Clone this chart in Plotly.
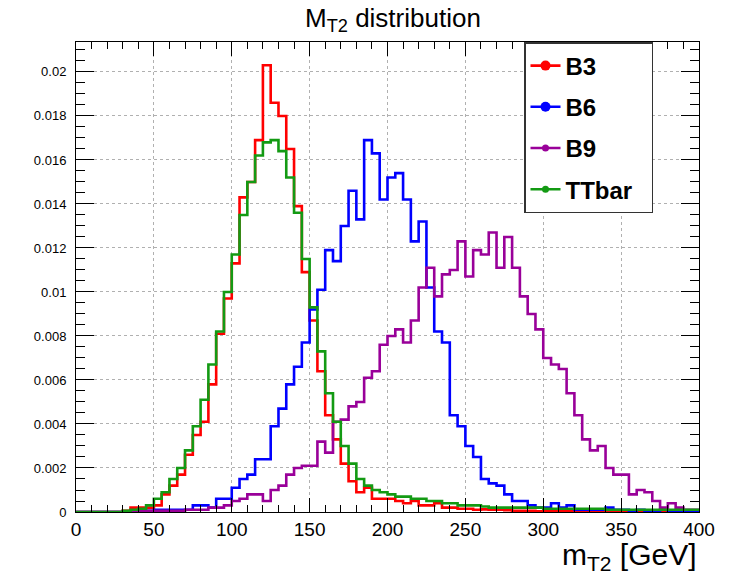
import plotly.graph_objects as go

# ---------------- data ----------------
bin_edges = list(range(0, 405, 5))  # 80 bins of 5 GeV, 0..400

b3 = [0, 0, 0, 0, 0, 0, 0.00005, 0.0002, 0.0002, 0.0002,
      0.0003, 0.0008, 0.0012, 0.0017, 0.0026, 0.0035, 0.0041, 0.0058, 0.0081, 0.0097,
      0.0113, 0.0143, 0.0150, 0.0169, 0.0203, 0.0186, 0.0180, 0.0165, 0.0139, 0.0109,
      0.0087, 0.0064, 0.0044, 0.0033, 0.0022, 0.0014, 0.0009, 0.0011, 0.0006, 0.0006,
      0.0006, 0.0005, 0.0004, 0.0005, 0.0003, 0.0003, 0.0004, 0.0002, 0.0002, 0.00015,
      0.00015, 0.0001, 0.00012, 0.0001, 0.0001, 0.00008, 0.00005, 0.00005, 0.00005, 0.00003,
      0.00005, 0.00005, 0.00003, 0.00005, 0.00002, 0.00005, 0.00003, 0.00002, 0.00005, 0.00002,
      0.00003, 0.00002, 0.00003, 0.00002, 0.00002, 0.00003, 0.00002, 0.00002, 0.00003, 0.00002]

b6 = [0, 0, 0, 0, 0, 0, 0, 0, 0, 0.00005,
      0.0001, 0.0001, 0.0001, 0.0001, 0.0001, 0.0003, 0.0003, 0.0002, 0.0006, 0.0006,
      0.0011, 0.0015, 0.0017, 0.0024, 0.0024, 0.0039, 0.0047, 0.0058, 0.0066, 0.0077,
      0.0092, 0.0101, 0.0119, 0.0114, 0.0130, 0.0146, 0.0133, 0.0169, 0.0163, 0.0142,
      0.0152, 0.0154, 0.0142, 0.0123, 0.0132, 0.0102, 0.0082, 0.0077, 0.0044, 0.0039,
      0.0030, 0.0025, 0.0015, 0.0013, 0.0012, 0.0008, 0.0005, 0.0005, 0.0003, 0.0002,
      0.0002, 0.0004, 0.0002, 0.0003, 0.0001, 0.0001, 0.0001, 0.0001, 0.0002, 0.0001,
      0.0001, 0.00005, 0.0001, 0.00005, 0.00005, 0.0001, 0.00005, 0.00005, 0.00005, 0.00005]

b9 = [0, 0, 0, 0, 0, 0, 0, 0.00005, 0.00005, 0.00005,
      0.00005, 0.00005, 0.00005, 0.00005, 0.0001, 0.0001, 0.0001, 0.0002, 0.0002, 0.0003,
      0.0005, 0.0006, 0.0008, 0.0008, 0.0005, 0.0010, 0.0012, 0.0017, 0.0020, 0.0021,
      0.0021, 0.0032, 0.0027, 0.0041, 0.0042, 0.0048, 0.0050, 0.0061, 0.0064, 0.0076,
      0.0080, 0.0083, 0.0077, 0.0087, 0.0102, 0.0111, 0.0098, 0.0108, 0.0110, 0.0123,
      0.0107, 0.0119, 0.0117, 0.0127, 0.0111, 0.0125, 0.0111, 0.0098, 0.0090, 0.0083,
      0.0070, 0.0067, 0.0065, 0.0054, 0.0044, 0.0033, 0.0028, 0.0030, 0.0020, 0.0017,
      0.0017, 0.0008, 0.0010, 0.0009, 0.0005, 0.0002, 0.0004, 0.0002, 0.0001, 0.0001]

ttbar = [0, 0, 0, 0, 0, 0, 0.00005, 0.0001, 0.00015, 0.0003,
         0.0006, 0.0009, 0.0015, 0.0020, 0.0028, 0.0039, 0.0051, 0.0067, 0.0082, 0.0100,
         0.0117, 0.0135, 0.0150, 0.0162, 0.0168, 0.0169, 0.0164, 0.0152, 0.0136, 0.0115,
         0.0093, 0.0073, 0.0054, 0.0041, 0.0030, 0.0022, 0.0015, 0.0012, 0.0010, 0.0009,
         0.0008, 0.0007, 0.0007, 0.0006, 0.0006, 0.0005, 0.0005, 0.0004, 0.0004, 0.0003,
         0.0003, 0.0003, 0.00025, 0.0002, 0.0002, 0.0002, 0.0002, 0.0002, 0.0002, 0.0002,
         0.00015, 0.00015, 0.00015, 0.00015, 0.00015, 0.00015, 0.00015, 0.00015, 0.0001, 0.0001,
         0.0001, 0.0001, 0.0001, 0.0001, 0.0001, 0.0001, 0.0001, 0.0001, 0.0001, 0.0001]

series_names = ["B3", "B6", "B9", "TTbar"]
series_values = [b3, b6, b9, ttbar]
series_colors = ["#ff0000", "#0000ff", "#990099", "#139a13"]
legend_marker_sizes = [10, 10, 7, 7]

x_tick_vals = [0, 50, 100, 150, 200, 250, 300, 350, 400]
x_tick_text = ["0", "50", "100", "150", "200", "250", "300", "350", "400"]
y_tick_vals = [0, 0.002, 0.004, 0.006, 0.008, 0.01, 0.012, 0.014, 0.016, 0.018, 0.02]
y_tick_text = ["0", "0.002", "0.004", "0.006", "0.008", "0.01", "0.012", "0.014", "0.016", "0.018", "0.02"]

FONT = "Liberation Sans, Arial, Helvetica, sans-serif"

fig = go.Figure()

# histogram outlines
for name, vals, col in zip(series_names, series_values, series_colors):
    fig.add_trace(go.Scatter(
        x=bin_edges, y=vals + [vals[-1]],
        mode="lines", line=dict(color=col, width=2.6, shape="hv"),
        showlegend=False, hoverinfo="skip", name=name))

# legend entries (line + marker), each in its own group so they can be spaced
for name, col, ms in zip(series_names, series_colors, legend_marker_sizes):
    label = name + "&nbsp;&nbsp;" if name == "TTbar" else name
    fig.add_trace(go.Scatter(
        x=[None], y=[None], mode="lines+markers", name=label, legendgroup=name,
        line=dict(color=col, width=2.6),
        marker=dict(color=col, size=ms, symbol="circle"),
        showlegend=True))

axis_common = dict(
    showline=True, linecolor="black", linewidth=1, mirror="ticks",
    ticks="inside", tickcolor="black", tickwidth=1,
    showgrid=True, gridcolor="#b0b0b0", griddash="dot", gridwidth=1,
    zeroline=False,
)

fig.update_layout(
    width=739, height=585,
    margin=dict(l=76, r=40, t=42, b=73),
    paper_bgcolor="white", plot_bgcolor="white",
    font=dict(family=FONT, color="black"),
    xaxis=dict(range=[0, 400], tickvals=x_tick_vals, ticktext=x_tick_text,
               ticklen=14, tickfont=dict(size=19, family=FONT, color="black"),
               minor=dict(ticks="inside", ticklen=7, dtick=10, tick0=0,
                          tickcolor="black", showgrid=False),
               **axis_common),
    yaxis=dict(range=[0, 0.02136], tickvals=y_tick_vals, ticktext=y_tick_text,
               ticklen=18, tickfont=dict(size=13, family=FONT, color="black"),
               ticklabelstandoff=6,
               minor=dict(ticks="inside", ticklen=9, dtick=0.0005, tick0=0,
                          tickcolor="black", showgrid=False),
               **axis_common),
    legend=dict(x=(524 - 76) / 623, y=1.0, xanchor="left", yanchor="top",
                bgcolor="white", bordercolor="#333333", borderwidth=1.5,
                font=dict(family=FONT, size=24, color="black", weight="bold"),
                itemwidth=30, tracegroupgap=7),
    annotations=[
        dict(text="M<sub>T2</sub> distribution", x=0.509, y=1.0, xref="paper", yref="paper",
             xanchor="center", yanchor="bottom", yshift=4, showarrow=False,
             font=dict(family=FONT, size=26, color="black")),
        dict(text="m<sub>T2</sub> [GeV]", x=1.0, y=0, xref="paper", yref="paper",
             xanchor="right", yanchor="top", yshift=-24, showarrow=False,
             font=dict(family=FONT, size=30, color="black")),
    ],
)

fig.write_html("out.html")
